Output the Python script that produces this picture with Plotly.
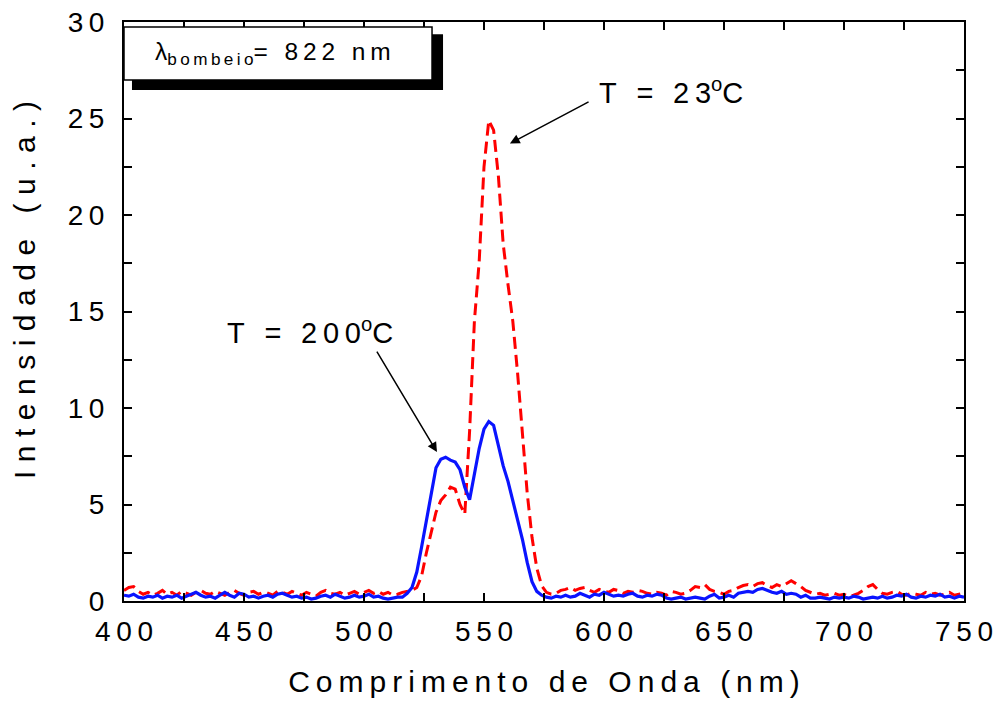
import plotly.graph_objects as go

# ---------------- data ----------------
wavelength = list(range(400, 752, 2))  # nm, sampling grid

intens_200C = [
    0.30, 0.25, 0.35, 0.20, 0.15, 0.25, 0.20, 0.30, 0.15, 0.25,   # 400-418
    0.20, 0.30, 0.15, 0.25, 0.35, 0.45, 0.30, 0.20, 0.25, 0.15,   # 420-438
    0.30, 0.45, 0.30, 0.20, 0.40, 0.35, 0.20, 0.25, 0.15, 0.25,   # 440-458
    0.30, 0.20, 0.35, 0.40, 0.30, 0.20, 0.25, 0.15, 0.20, 0.10,   # 460-478
    0.15, 0.25, 0.30, 0.20, 0.35, 0.25, 0.15, 0.20, 0.30, 0.20,   # 480-498
    0.25, 0.35, 0.20, 0.25, 0.15, 0.10, 0.15, 0.20, 0.20, 0.40,   # 500-518
    0.70, 1.50, 2.80, 4.20, 5.70, 6.90, 7.35, 7.45, 7.30, 7.20,   # 520-538
    6.80, 5.90, 5.25, 6.60, 7.90, 8.90, 9.30, 9.10, 8.00, 7.00,   # 540-558
    6.20, 5.20, 4.20, 3.20, 2.00, 1.00, 0.50, 0.30, 0.20, 0.15,   # 560-578
    0.25, 0.20, 0.30, 0.20, 0.25, 0.40, 0.30, 0.20, 0.35, 0.30,   # 580-598
    0.45, 0.35, 0.25, 0.30, 0.25, 0.35, 0.40, 0.25, 0.20, 0.30,   # 600-618
    0.25, 0.35, 0.30, 0.15, 0.10, 0.15, 0.20, 0.10, 0.15, 0.20,   # 620-638
    0.15, 0.10, 0.25, 0.35, 0.15, 0.20, 0.30, 0.20, 0.40, 0.45,   # 640-658
    0.50, 0.45, 0.60, 0.65, 0.55, 0.45, 0.40, 0.50, 0.35, 0.40,   # 660-678
    0.35, 0.20, 0.30, 0.15, 0.15, 0.20, 0.15, 0.10, 0.20, 0.15,   # 680-698
    0.20, 0.15, 0.25, 0.20, 0.10, 0.15, 0.20, 0.15, 0.25, 0.15,   # 700-718
    0.20, 0.30, 0.25, 0.35, 0.20, 0.15, 0.25, 0.20, 0.30, 0.25,   # 720-738
    0.35, 0.20, 0.25, 0.15, 0.25, 0.20,                           # 740-750
]

intens_23C = [
    0.55, 0.70, 0.75, 0.50, 0.35, 0.45, 0.30, 0.40, 0.55, 0.35,   # 400-418
    0.45, 0.30, 0.50, 0.40, 0.30, 0.45, 0.55, 0.40, 0.35, 0.50,   # 420-438
    0.40, 0.30, 0.45, 0.55, 0.40, 0.30, 0.45, 0.50, 0.35, 0.45,   # 440-458
    0.40, 0.30, 0.50, 0.45, 0.35, 0.50, 0.40, 0.30, 0.45, 0.35,   # 460-478
    0.25, 0.45, 0.55, 0.40, 0.35, 0.45, 0.30, 0.40, 0.50, 0.35,   # 480-498
    0.45, 0.55, 0.40, 0.50, 0.35, 0.45, 0.30, 0.35, 0.45, 0.50,   # 500-518
    0.55, 0.70, 1.30, 2.50, 3.60, 4.60, 5.20, 5.50, 5.90, 5.80,   # 520-538
    5.00, 4.50, 8.80, 14.50, 17.60, 22.50, 24.90, 24.40, 22.00, 18.50,  # 540-558
    16.40, 14.50, 11.80, 8.60, 5.60, 3.30, 1.70, 0.80, 0.45, 0.35,  # 560-578
    0.40, 0.55, 0.60, 0.70, 0.55, 0.65, 0.70, 0.55, 0.45, 0.60,   # 580-598
    0.50, 0.45, 0.60, 0.55, 0.40, 0.50, 0.45, 0.55, 0.50, 0.40,   # 600-618
    0.35, 0.45, 0.40, 0.30, 0.50, 0.45, 0.35, 0.40, 0.55, 0.75,   # 620-638
    0.70, 0.85, 0.60, 0.50, 0.45, 0.35, 0.50, 0.55, 0.70, 0.80,   # 640-658
    0.85, 0.75, 0.90, 0.95, 0.80, 0.70, 0.85, 0.75, 0.90, 1.05,   # 660-678
    0.90, 0.75, 0.55, 0.45, 0.35, 0.40, 0.30, 0.35, 0.40, 0.30,   # 680-698
    0.35, 0.25, 0.30, 0.40, 0.55, 0.75, 0.85, 0.60, 0.40, 0.35,   # 700-718
    0.45, 0.50, 0.35, 0.30, 0.40, 0.35, 0.30, 0.45, 0.35, 0.40,   # 720-738
    0.30, 0.35, 0.45, 0.30, 0.35, 0.40,                           # 740-750
]

x_tick_vals = [400, 450, 500, 550, 600, 650, 700, 750]
y_tick_vals = [0, 5, 10, 15, 20, 25, 30]

label_23C = "T = 23"
label_200C = "T = 200"
pump_label = "= 822 nm"
pump_sub = "bombeio"
x_title = "Comprimento de Onda (nm)"
y_title = "Intensidade (u.a.)"

# ---------------- helpers ----------------
SP = "\u2009"


def spaced(s, sep=SP):
    return sep.join(s)


FONT = "Liberation Sans, Arial, sans-serif"

fig = go.Figure()

fig.add_trace(go.Scatter(
    x=wavelength, y=intens_23C, mode="lines",
    line=dict(color="#ff0000", width=3, dash="12px,6px"),
    name="T = 23°C", showlegend=False,
))
fig.add_trace(go.Scatter(
    x=wavelength, y=intens_200C, mode="lines",
    line=dict(color="#0a14ff", width=3.2),
    name="T = 200°C", showlegend=False,
))

axis_common = dict(
    showline=True, linecolor="black", linewidth=2,
    mirror="allticks", ticks="inside", ticklen=8, tickwidth=1.5,
    tickcolor="black", showgrid=False, zeroline=False,
    automargin=False,
    tickfont=dict(family=FONT, size=28, color="black"),
)

fig.update_xaxes(
    range=[400, 750], tickvals=x_tick_vals,
    ticktext=[spaced(str(v)) for v in x_tick_vals],
    minor=dict(dtick=25, tick0=400, ticks="inside", ticklen=8,
               tickwidth=1.5, tickcolor="black", showgrid=False),
    title=dict(text=spaced(x_title), font=dict(family=FONT, size=30, color="black"),
               standoff=25),
    ticklabelstandoff=4,
    **axis_common,
)
fig.update_yaxes(
    range=[0, 30], tickvals=y_tick_vals,
    ticktext=[spaced(str(v)) for v in y_tick_vals],
    minor=dict(dtick=2.5, tick0=0, ticks="inside", ticklen=8,
               tickwidth=1.5, tickcolor="black", showgrid=False),
    ticklabelstandoff=12,
    **axis_common,
)

# y-axis title as rotated annotation (positioned like the reference)
fig.add_annotation(
    xref="paper", yref="paper", x=-0.119, y=0.537, showarrow=False,
    xanchor="center", yanchor="middle", textangle=-90,
    text=spaced(y_title, "\u2009\u200a"),
    font=dict(family=FONT, size=30, color="black"),
)

# pump wavelength box with drop shadow
fig.add_shape(type="rect", xref="paper", yref="paper",
              x0=0.0095, x1=0.3798, y0=0.8826, y1=0.979,
              fillcolor="black", line=dict(width=0), layer="above")
fig.add_shape(type="rect", xref="paper", yref="paper",
              x0=0.0, x1=0.3667, y0=0.8998, y1=0.9914,
              fillcolor="white", line=dict(color="black", width=1.5), layer="above")
fig.add_annotation(
    xref="paper", yref="paper", x=0.177, y=0.946, showarrow=False,
    xanchor="center", yanchor="middle",
    text="λ<sub>" + spaced(pump_sub) + "</sub>" + spaced(pump_label),
    font=dict(family=FONT, size=24.5, color="black"),
)

# curve labels
fig.add_annotation(
    x=628, y=26.4, xref="x", yref="y", showarrow=False,
    xanchor="center", yanchor="middle",
    text=spaced(label_23C) + "<sup>o</sup>C",
    font=dict(family=FONT, size=29, color="black"),
)
fig.add_annotation(
    x=477.5, y=14.0, xref="x", yref="y", showarrow=False,
    xanchor="center", yanchor="middle",
    text=spaced(label_200C) + "<sup>o</sup>C",
    font=dict(family=FONT, size=29, color="black"),
)
# arrows
fig.add_annotation(
    x=560.8, y=23.7, ax=594.2, ay=25.9, xref="x", yref="y", axref="x", ayref="y",
    text="", showarrow=True, arrowhead=2, arrowsize=1.3, arrowwidth=1.5,
    arrowcolor="black",
)
fig.add_annotation(
    x=530.4, y=7.72, ax=505.0, ay=13.0, xref="x", yref="y", axref="x", ayref="y",
    text="", showarrow=True, arrowhead=2, arrowsize=1.3, arrowwidth=1.5,
    arrowcolor="black",
)

fig.update_layout(
    width=996, height=701,
    margin=dict(l=124, r=32, t=22, b=100),
    plot_bgcolor="white", paper_bgcolor="white",
    showlegend=False,
    font=dict(family=FONT, color="black"),
)

assert len(wavelength) == len(intens_200C) == len(intens_23C), (
    len(wavelength), len(intens_200C), len(intens_23C))

fig.write_html("out.html")
